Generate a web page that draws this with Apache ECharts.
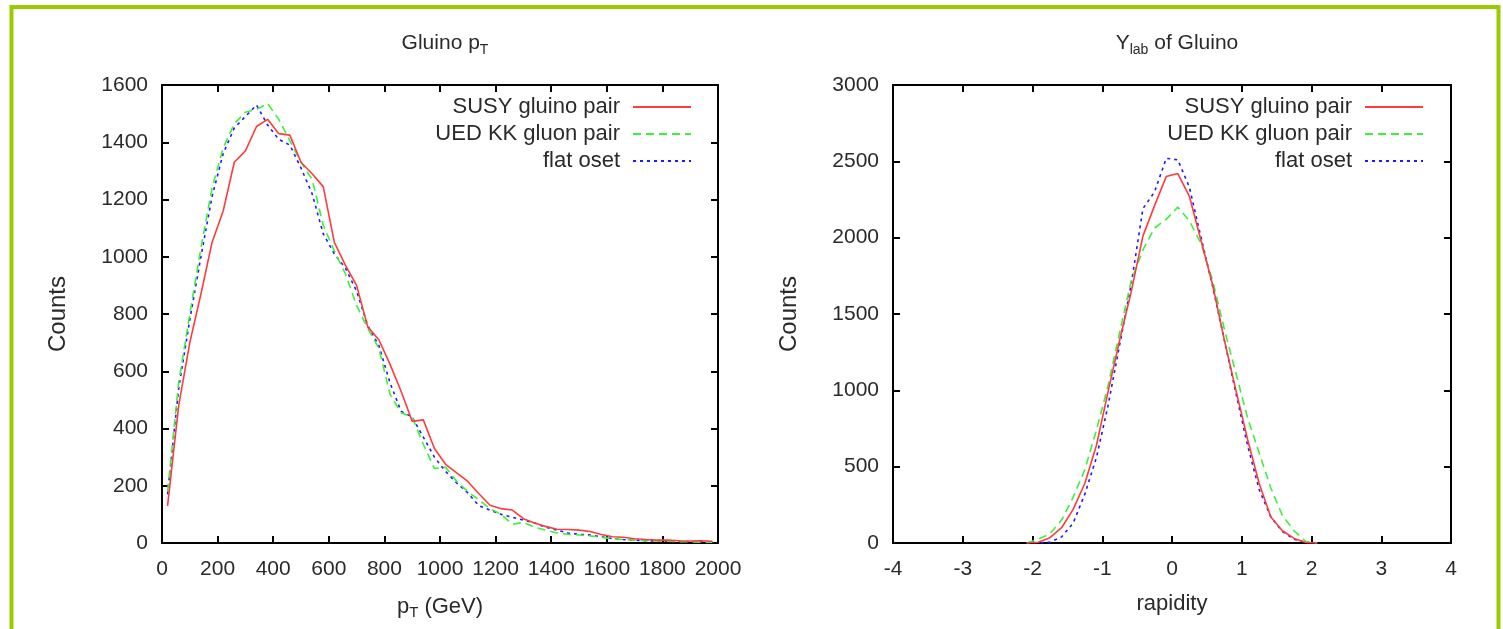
<!DOCTYPE html>
<html>
<head>
    <meta charset="UTF-8">
    <title>Gluino pT and rapidity</title>
    <script src="https://cdn.jsdelivr.net/npm/echarts@6.0.0/dist/echarts.min.js"></script>
    <style>
        html, body { margin: 0; padding: 0; background: #fff; }
        #chart { width: 1503px; height: 629px; }
    </style>
</head>
<body>
    <div id="chart"></div>
    <script>
        // pT bins (GeV), 40 GeV wide
        const ptBins = [20, 60, 100, 140, 180, 220, 260, 300, 340, 380, 420, 460, 500, 540, 580, 620, 660, 700, 740, 780,
            820, 860, 900, 940, 980, 1020, 1060, 1100, 1140, 1180, 1220, 1260, 1300, 1340, 1380, 1420, 1460, 1500, 1540, 1580,
            1620, 1660, 1700, 1740, 1780, 1820, 1860, 1900, 1940, 1980];
        const susyPt = [130, 480, 700, 870, 1050, 1160, 1330, 1370, 1455, 1480, 1430, 1425, 1330, 1290, 1245, 1050, 970, 900, 755, 710,
            625, 530, 425, 430, 330, 275, 245, 215, 172, 132, 120, 115, 85, 70, 58, 48, 47, 45, 40, 30,
            22, 20, 15, 12, 10, 10, 8, 7, 8, 6];
        const uedPt = [180, 560, 800, 1030, 1240, 1380, 1465, 1505, 1515, 1535, 1480, 1405, 1330, 1270, 1110, 1020, 940, 830, 750, 680,
            520, 455, 440, 345, 260, 265, 215, 180, 150, 120, 100, 65, 72, 55, 45, 35, 30, 28, 25, 20,
            15, 12, 10, 8, 7, 6, 5, 4, 3, 3];
        const osetPt = [170, 540, 780, 1000, 1210, 1360, 1450, 1490, 1530, 1460, 1410, 1390, 1310, 1220, 1080, 1010, 960, 880, 760, 690,
            560, 460, 440, 370, 300, 250, 210, 175, 130, 115, 100, 90, 80, 70, 55, 45, 35, 30, 28, 22,
            15, 12, 10, 8, 7, 6, 5, 4, 4, 3];

        // rapidity bins, 1/6 wide
        const rapBins = [-2.083, -1.917, -1.75, -1.583, -1.417, -1.25, -1.083, -0.917, -0.75, -0.583, -0.417, -0.25, -0.083,
            0.083, 0.25, 0.417, 0.583, 0.75, 0.917, 1.083, 1.25, 1.417, 1.583, 1.75, 1.917, 2.083];
        const susyY = [0, 5, 35, 100, 220, 390, 640, 990, 1330, 1650, 2010, 2210, 2400,
            2420, 2270, 1980, 1690, 1330, 1000, 680, 390, 170, 80, 30, 3, 0];
        const uedY = [0, 25, 60, 150, 300, 480, 740, 1030, 1380, 1720, 1920, 2063, 2120,
            2200, 2110, 1960, 1720, 1400, 1110, 820, 590, 360, 180, 80, 10, 0];
        const osetY = [0, 0, 5, 40, 130, 320, 560, 900, 1300, 1700, 2190, 2300, 2520,
            2510, 2330, 2000, 1680, 1330, 980, 640, 350, 170, 75, 25, 3, 0];

        const names = ['SUSY gluino pair', 'UED KK gluon pair', 'flat oset'];
        const colors = ['#ff3b3b', '#3cf03c', '#1a1aff'];
        const dashes = ['solid', [8, 5], [3, 4]];

        const font = 'Liberation Sans, Arial, sans-serif';
        const txt = '#2a2a2a';
        const fs = 21;
        const plain = v => String(v);

        function pairs(xs, ys) {
            return xs.map((x, i) => [x, ys[i]]);
        }

        function makeSeries(gridIdx, xs, sets) {
            return sets.map((ys, i) => ({
                name: names[i],
                type: 'line',
                xAxisIndex: gridIdx * 2,
                yAxisIndex: gridIdx * 2,
                data: pairs(xs, ys),
                symbol: 'none',
                z: 5 - i,
                lineStyle: { color: colors[i], width: 1.6, type: dashes[i] },
                itemStyle: { color: colors[i] }
            }));
        }

        const axLine = { onZero: false, lineStyle: { color: '#000', width: 2 } };
        const axTick = { inside: true, length: 7, lineStyle: { color: '#000', width: 2 } };

        // main axis + mirrored (frame) axis for each grid
        function xAxes(gridIdx, min, max, interval, name) {
            return [{
                gridIndex: gridIdx, type: 'value', min: min, max: max, interval: interval,
                position: 'bottom',
                axisLine: axLine,
                axisTick: axTick,
                axisLabel: { color: txt, fontSize: fs, fontFamily: font, margin: 16, formatter: plain },
                splitLine: { show: false },
                name: name, nameLocation: 'middle', nameGap: 50,
                nameTextStyle: {
                    color: txt, fontSize: 22, fontFamily: font,
                    rich: {
                        n: { fontSize: 22, fontFamily: font, color: txt },
                        s: { fontSize: 15, fontFamily: font, color: txt, padding: [12, 0, 0, 0] }
                    }
                }
            }, {
                gridIndex: gridIdx, type: 'value', min: min, max: max, interval: interval,
                position: 'top',
                axisLine: axLine,
                axisTick: axTick,
                axisLabel: { show: false },
                splitLine: { show: false }
            }];
        }

        function yAxes(gridIdx, max, interval) {
            return [{
                gridIndex: gridIdx, type: 'value', min: 0, max: max, interval: interval,
                position: 'left',
                axisLine: Object.assign({ show: true }, axLine),
                axisTick: Object.assign({ show: true }, axTick),
                axisLabel: { color: txt, fontSize: fs, fontFamily: font, margin: 14, formatter: plain },
                splitLine: { show: false },
                name: 'Counts', nameLocation: 'middle', nameRotate: 90, nameGap: 92,
                nameTextStyle: { color: txt, fontSize: 24, fontFamily: font }
            }, {
                gridIndex: gridIdx, type: 'value', min: 0, max: max, interval: interval,
                position: 'right',
                axisLine: Object.assign({ show: true }, axLine),
                axisTick: Object.assign({ show: true }, axTick),
                axisLabel: { show: false },
                splitLine: { show: false }
            }];
        }

        const chart = echarts.init(document.getElementById('chart'));

        function legendAt(rightPx) {
            return {
                orient: 'vertical',
                align: 'right',
                right: rightPx,
                top: 91,
                itemWidth: 58,
                itemHeight: 14,
                itemGap: 5,
                itemStyle: { color: 'rgba(0,0,0,0)', borderWidth: 0 },
                textStyle: { color: txt, fontSize: 22, lineHeight: 22, fontFamily: font, padding: [0, 8, 0, 0] },
                data: names
            };
        }

        const titleRich = {
            n: { fontSize: fs, fontFamily: font, color: txt, fontWeight: 'normal' },
            s: { fontSize: 14, fontFamily: font, color: txt, fontWeight: 'normal', padding: [13, 0, 0, 0] }
        };

        chart.setOption({
            backgroundColor: '#fff',
            animation: false,
            title: [{
                text: '{n|Gluino p}{s|T}',
                left: 440, top: 25, textAlign: 'center',
                textStyle: { fontWeight: 'normal', rich: titleRich }
            }, {
                text: '{n|Y}{s|lab}{n| of Gluino}',
                left: 1172, top: 25, textAlign: 'center',
                textStyle: { fontWeight: 'normal', rich: titleRich }
            }],
            legend: [legendAt(1503 - 692 - 5), legendAt(1503 - 1424 - 5)],
            grid: [
                { left: 162, right: 785, top: 85, height: 458 },
                { left: 893, right: 52, top: 85, height: 458 }
            ],
            xAxis: xAxes(0, 0, 2000, 200, '{n|p}{s|T}{n| (GeV)}')
                .concat(xAxes(1, -4, 4, 1, 'rapidity')),
            yAxis: yAxes(0, 1600, 200).concat(yAxes(1, 3000, 500)),
            series: makeSeries(0, ptBins, [susyPt, uedPt, osetPt])
                .concat(makeSeries(1, rapBins, [susyY, uedY, osetY])),
            graphic: [{
                type: 'rect',
                shape: { x: 11.5, y: 7, width: 1487, height: 700 },
                style: { fill: 'none', stroke: '#99cc00', lineWidth: 4 },
                silent: true
            }]
        });
    </script>
</body>
</html>
